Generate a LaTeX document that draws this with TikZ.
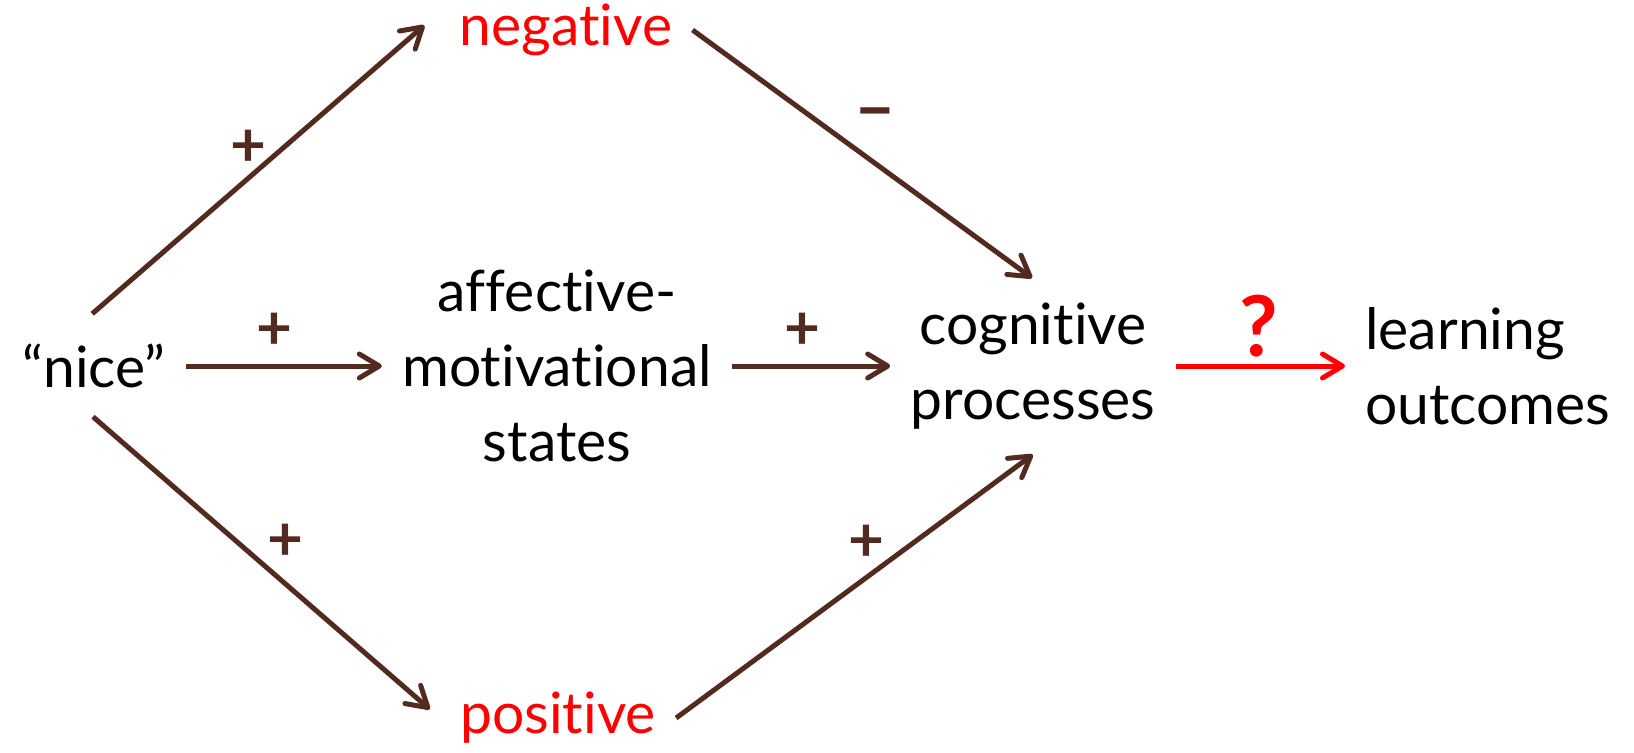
\documentclass[tikz,border=0pt]{standalone}
\usepackage{fontspec}
\setmainfont{Lato}[Ligatures={NoCommon,TeX}]
\usetikzlibrary{arrows.meta}
\definecolor{arrowbrown}{RGB}{82,42,32}
\definecolor{hotred}{RGB}{255,0,0}

\begin{document}
\begin{tikzpicture}[
x=0.5pt, y=-0.5pt,
    every node/.style={font=\fontsize{28.5}{37.5}\selectfont},
    concept/.style={align=center, inner xsep=10pt, inner ysep=6pt},
    valence/.style={concept, text=hotred},
    sign/.style={inner sep=0pt, text=arrowbrown, font=\fontsize{31}{37.5}\selectfont\bfseries},
    link/.style={draw=arrowbrown, line width=2.5pt, -{Straight Barb[length=10pt, width=12pt, round]}}
]
    \useasboundingbox (0,0) rectangle (1634,752);

    % Concepts
    \node[concept] (nice) at (94,366) {“nice”};
    \node[concept] (affect) at (557,366) {affective-\\motivational\\states};
    \node[concept] (cog) at (1033,366) {cognitive\\processes};
    \node[concept, anchor=west, align=left] (learn) at (1345,366) {learning\\outcomes};

    % Valenced states
    \node[valence] (neg) at (566,30) {negative};
    \node[valence] (pos) at (558,718) {positive};

    % Main chain
    \draw[link] (nice.east) -- (affect.west)
        node[sign, midway, xshift=-4.5pt, yshift=17.5pt] {+};
    \draw[link] (affect.east) -- (cog.west)
        node[sign, midway, xshift=-4.5pt, yshift=17.5pt] {+};
    \draw[link, draw=hotred] (cog.east) -- (learn.west)
        node[sign, midway, text=hotred, font=\fontsize{42}{48}\selectfont\bfseries, xshift=-1pt, yshift=20pt] {?};

    % Upper branch
    \draw[link, shorten <=13.6pt, shorten >=10pt] (nice.123) -- (neg.172)
        node[sign, midway, xshift=-3.5pt, yshift=12pt] {+};
    \draw[link, shorten >=10.5pt] (neg.east) -- (cog.78)
        node[sign, midway, xshift=2.5pt, yshift=20pt, font=\fontsize{36}{40}\selectfont\bfseries] {–};

    % Lower branch
    \draw[link, shorten <=12.5pt, shorten >=6.7pt] (nice.240) -- (pos.west)
        node[sign, midway, xshift=14pt, yshift=8.5pt] {+};
    \draw[link, shorten >=11pt] (pos.east) -- (cog.283)
        node[sign, midway, xshift=1.5pt, yshift=18pt] {+};

\end{tikzpicture}
\end{document}
